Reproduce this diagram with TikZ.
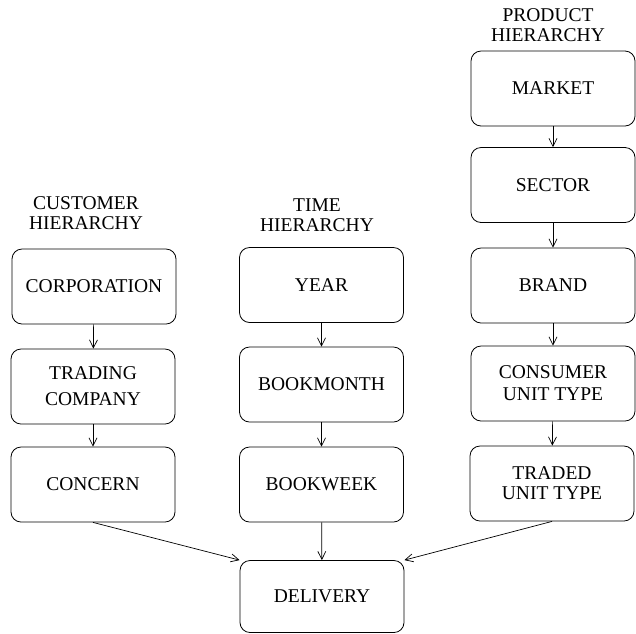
\documentclass[tikz,border=0pt]{standalone}
\usepackage{fontspec}
\setmainfont{Liberation Serif}
\usetikzlibrary{arrows.meta}
\newcommand{\boxfont}{\fontsize{19.5}{20}\selectfont}
\begin{document}
\begin{tikzpicture}[x=1pt,y=-1pt,
  box/.style={draw, rounded corners=10pt, minimum width=164pt, minimum height=75pt, align=center, font=\boxfont, line width=0.8pt, inner sep=0pt},
  ttl/.style={align=center, font=\boxfont, inner sep=0pt},
  arr/.style={-{Straight Barb[length=8pt,width=8pt]}, line width=0.7pt}]
\useasboundingbox (0,0) rectangle (636,633);
% titles
\node[ttl] (tc) at (86,213) {CUSTOMER\\HIERARCHY};
\node[ttl] (tt) at (317,215) {TIME\\HIERARCHY};
\node[ttl] (tp) at (548,25) {PRODUCT\\HIERARCHY};
% customer
\node[box] (corp) at (94,286.5) {CORPORATION};
\node[box, align=center] (trad) at (93,386.5) {TRADING\\[6pt]COMPANY};
\node[box] (conc) at (93,484.5) {CONCERN};
% time
\node[box] (year) at (321.5,285) {YEAR};
\node[box] (bmon) at (321.5,384.5) {BOOKMONTH};
\node[box] (bweek) at (321.5,484.5) {BOOKWEEK};
% product
\node[box] (mark) at (553,88.5) {MARKET};
\node[box] (sect) at (553,185) {SECTOR};
\node[box] (brand) at (553,285.5) {BRAND};
\node[box] (cons) at (553,383.5) {CONSUMER\\[2pt]UNIT TYPE};
\node[box] (trd) at (552,483.5) {TRADED\\UNIT TYPE};
% delivery
\node[box, minimum height=72pt] (del) at (322,596.5) {DELIVERY};
% arrows
\draw[arr] (corp) -- (trad);
\draw[arr] (trad) -- (conc);
\draw[arr] (year) -- (bmon);
\draw[arr] (bmon) -- (bweek);
\draw[arr] (mark) -- (sect);
\draw[arr] (sect) -- (brand);
\draw[arr] (brand) -- (cons);
\draw[arr] (cons) -- (trd);
\draw[arr] (bweek) -- (del);
\draw[arr] (conc.south) -- (del.north west);
\draw[arr] (trd.south) -- (del.north east);
\end{tikzpicture}
\end{document}
